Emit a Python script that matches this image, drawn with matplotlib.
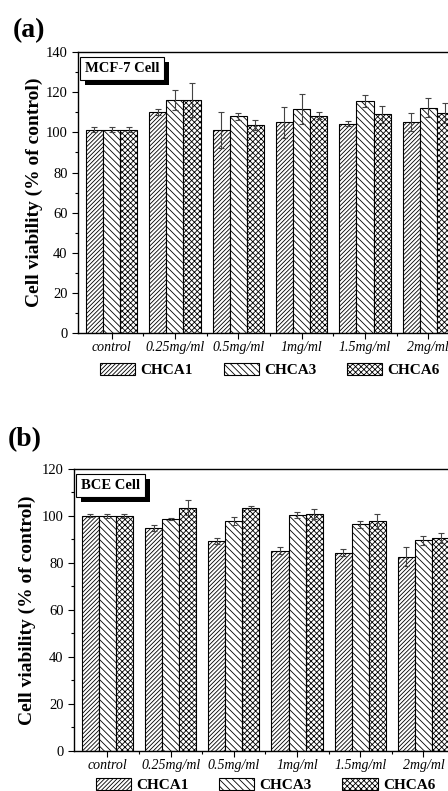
import numpy as np
import matplotlib
matplotlib.use('Agg')
import matplotlib.pyplot as plt
import matplotlib.patheffects as pe
from matplotlib.ticker import MultipleLocator, FixedLocator

plt.rcParams['font.family'] = ['Liberation Serif', 'DejaVu Serif']
plt.rcParams['hatch.linewidth'] = 0.6

# data
doses = ['control', '0.25mg/ml', '0.5mg/ml', '1mg/ml', '1.5mg/ml', '2mg/ml']
series = ['CHCA1', 'CHCA3', 'CHCA6']

mcf_chca1 = [101.3, 110.2, 101.0, 105.0, 104.3, 105.2]
mcf_chca3 = [101.3, 116.0, 108.0, 111.6, 115.6, 112.3]
mcf_chca6 = [101.3, 116.0, 103.7, 108.4, 109.0, 109.8]
mcf_err1 = [1.3, 1.3, 9.0, 7.8, 1.3, 4.7]
mcf_err3 = [1.3, 5.0, 1.6, 7.5, 3.0, 4.8]
mcf_err6 = [1.3, 8.5, 2.5, 1.6, 4.2, 5.0]

bce_chca1 = [100.1, 95.0, 89.4, 85.2, 84.4, 82.7]
bce_chca3 = [100.0, 98.8, 98.0, 100.3, 96.4, 89.6]
bce_chca6 = [100.0, 103.6, 103.4, 100.9, 97.7, 90.6]
bce_err1 = [0.7, 1.3, 1.3, 1.5, 1.6, 4.0]
bce_err3 = [0.7, 0.5, 1.7, 1.3, 1.4, 1.8]
bce_err6 = [0.7, 3.0, 0.9, 2.0, 3.2, 2.0]

hatches = ['////////', '\\\\\\\\\\', 'xxxxxx']
width = 0.27


def draw_panel(ax, vals, errs, ymax, cell, pad):
    x = np.arange(len(doses))
    for i in range(3):
        ax.bar(x + (i - 1) * width, vals[i], width, yerr=errs[i],
               color='white', edgecolor='black', linewidth=0.8,
               hatch=hatches[i], label=series[i],
               error_kw=dict(ecolor='#444444', elinewidth=0.8, capsize=2.5, capthick=0.8))
    ax.set_xlim(-0.53, 5.53)
    ax.set_ylim(0, ymax)
    ax.yaxis.set_major_locator(MultipleLocator(20))
    ax.yaxis.set_minor_locator(MultipleLocator(10))
    ax.set_xticks(x)
    ax.set_xticklabels(doses, fontstyle='italic', fontsize=10)
    ax.xaxis.set_minor_locator(FixedLocator(x[:-1] + 0.5))
    ax.tick_params(which='major', direction='out', length=4, width=0.8)
    ax.tick_params(axis='y', labelsize=10.5)
    ax.tick_params(which='minor', direction='out', length=2.5, width=0.8)
    ax.tick_params(axis='x', pad=2)
    for s in ax.spines.values():
        s.set_linewidth(1.0)
    ax.set_ylabel('Cell viability (% of control)', fontsize=14, fontweight='bold', labelpad=pad)

    # label box with a black drop shadow
    t = ax.text(0.018, 0.965, cell, transform=ax.transAxes, fontsize=10.5,
                fontweight='bold', va='top', ha='left', zorder=6,
                bbox=dict(boxstyle='square,pad=0.35', facecolor='white',
                          edgecolor='black', linewidth=0.8))
    t.get_bbox_patch().set_path_effects([
        pe.SimplePatchShadow(offset=(3.5, -3.5), shadow_rgbFace='black', alpha=1.0),
        pe.Normal()])


fig = plt.figure(figsize=(4.48, 7.91), dpi=100)
ax1 = fig.add_axes([0.174, 0.579, 0.857, 0.355])
ax2 = fig.add_axes([0.165, 0.0506, 0.855, 0.3565])

draw_panel(ax1, [mcf_chca1, mcf_chca3, mcf_chca6], [mcf_err1, mcf_err3, mcf_err6], 140, 'MCF-7 Cell', 2)
draw_panel(ax2, [bce_chca1, bce_chca3, bce_chca6], [bce_err1, bce_err3, bce_err6], 120, 'BCE Cell', 4)

for ax, y in [(ax1, -0.132), (ax2, -0.12)]:
    ax.legend(loc='center', bbox_to_anchor=(0.5, y), ncol=3, frameon=False,
              prop=dict(weight='bold', size=11), handlelength=2.3, handleheight=0.85,
              handletextpad=0.35, columnspacing=2.0, borderaxespad=0, borderpad=0)

fig.text(0.028, 0.977, '(a)', fontsize=20, fontweight='bold', va='top', ha='left')
fig.text(0.018, 0.46, '(b)', fontsize=20, fontweight='bold', va='top', ha='left')

fig.savefig('out.png', dpi=100)
